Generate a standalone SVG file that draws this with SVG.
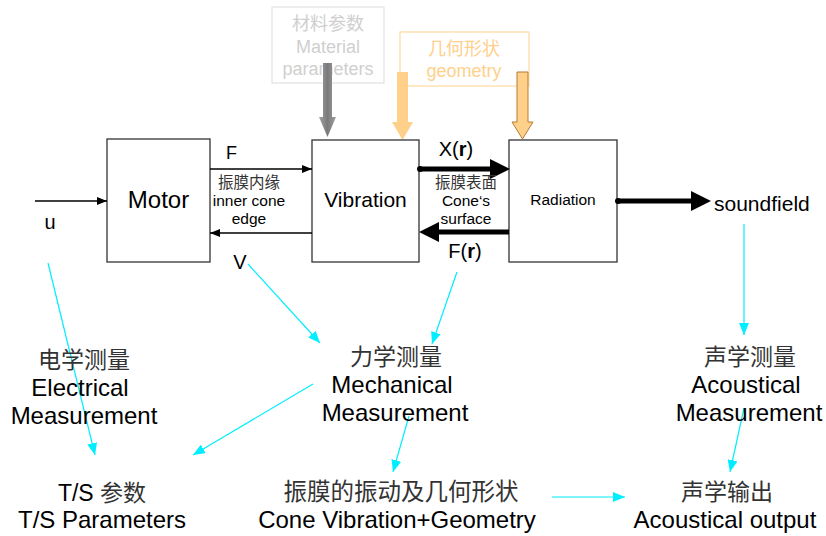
<svg xmlns="http://www.w3.org/2000/svg" width="826" height="536" viewBox="0 0 826 536">
<style>
.box{fill:#fff;stroke:#333;stroke-width:1.3}
.lat{font-family:"Liberation Sans",Arial,sans-serif;fill:#000}
.cjk{font-family:"Noto Sans CJK SC","Liberation Sans",sans-serif;fill:#333}
.thin{stroke:#000;stroke-width:1.3;fill:none}
.thick{stroke:#000;stroke-width:5;fill:none}
.cy{stroke:#00eeff;stroke-width:1.2;fill:none;marker-end:url(#cyHead)}
.mid{text-anchor:middle}
</style>
<defs>
<marker id="thinHead" viewBox="0 0 10 8" markerWidth="10" markerHeight="8" refX="10" refY="4" orient="auto" markerUnits="userSpaceOnUse"><path d="M0,0 L10,4 L0,8 z" fill="#000"/></marker>
<marker id="thickHead" viewBox="0 0 20 20" markerWidth="20" markerHeight="20" refX="0" refY="10" orient="auto" markerUnits="userSpaceOnUse"><path d="M0,0 L20,10 L0,20 z" fill="#000"/></marker>
<marker id="dot" viewBox="0 0 6 6" markerWidth="6" markerHeight="6" refX="3" refY="3" markerUnits="userSpaceOnUse"><circle cx="3" cy="3" r="3" fill="#000"/></marker>
<marker id="cyHead" viewBox="0 0 12 10" markerWidth="12" markerHeight="10" refX="12" refY="5" orient="auto" markerUnits="userSpaceOnUse"><path d="M0,0 L12,5 L0,10 z" fill="#00eeff"/></marker>
<linearGradient id="grey" x1="0" y1="0" x2="1" y2="0"><stop offset="0" stop-color="#a0a0a0"/><stop offset="0.5" stop-color="#7a7a7a"/><stop offset="1" stop-color="#a0a0a0"/></linearGradient>
</defs>

<g id="material">
<rect x="272" y="7" width="112" height="76" fill="none" stroke="#e2e2e2" stroke-width="1.2"/>
<text class="cjk mid" x="328" y="30" font-size="18" style="fill:#cfcfcf">材料参数</text>
<text class="lat mid" x="328" y="53" font-size="18" style="fill:#cfcfcf">Material</text>
<text class="lat mid" x="328" y="75" font-size="18" style="fill:#cfcfcf">parameters</text>
</g>
<g id="geometry">
<rect x="400" y="32" width="129" height="54" fill="none" stroke="#ffd99e" stroke-width="1.2"/>
<text class="cjk mid" x="464" y="55" font-size="18" style="fill:#ffd08c">几何形状</text>
<text class="lat mid" x="464" y="77" font-size="18" style="fill:#ffd08c">geometry</text>
</g>

<g id="blockArrows">
<polygon points="323,63 332,63 332,117 336,117 327.5,137 319,117 323,117" fill="url(#grey)"/>
<polygon points="397,72 408,72 408,122 413,122 402.5,140 392,122 397,122" fill="#ffd08a"/>
<polygon points="517,72 528,72 528,122 533,122 522.5,139 512,122 517,122" fill="#ffd08a" stroke="#b97a35" stroke-width="1"/>
</g>

<g id="motor">
<rect class="box" x="107" y="139" width="103" height="123"/>
<text class="lat mid" x="158.5" y="208" font-size="24">Motor</text>
</g>
<g id="vibration">
<rect class="box" x="312" y="140" width="107" height="122"/>
<text class="lat mid" x="365.5" y="207" font-size="21">Vibration</text>
</g>
<g id="radiation">
<rect class="box" x="509" y="140" width="108" height="122"/>
<text class="lat mid" x="563" y="205" font-size="15.5">Radiation</text>
</g>

<g id="connectors">
<line class="thin" x1="35" y1="201" x2="107" y2="201" marker-end="url(#thinHead)"/>
<line class="thin" x1="210" y1="169" x2="312" y2="169" marker-end="url(#thinHead)"/>
<line class="thin" x1="312" y1="233" x2="210" y2="233" marker-end="url(#thinHead)"/>
<line class="thick" x1="420" y1="169" x2="490" y2="169" marker-start="url(#dot)" marker-end="url(#thickHead)"/>
<line class="thick" x1="509" y1="232" x2="439" y2="232" marker-end="url(#thickHead)"/>
<line class="thick" x1="618" y1="201" x2="691" y2="201" marker-start="url(#dot)" marker-end="url(#thickHead)"/>
<line class="cy" x1="48" y1="263" x2="95" y2="455"/>
<line class="cy" x1="248" y1="264" x2="320" y2="343"/>
<line class="cy" x1="313" y1="384" x2="193" y2="455"/>
<line class="cy" x1="457" y1="272" x2="432" y2="344"/>
<line class="cy" x1="409" y1="416" x2="393" y2="472"/>
<line class="cy" x1="744" y1="224" x2="744" y2="335"/>
<line class="cy" x1="744" y1="408" x2="730" y2="472"/>
<line class="cy" x1="552" y1="497" x2="625" y2="497"/>
</g>

<g id="labels">
<text class="lat mid" x="50" y="229" font-size="20">u</text>
<text class="lat" x="226" y="159" font-size="18">F</text>
<text class="cjk mid" x="249" y="188" font-size="15.5">振膜内缘</text>
<text class="lat mid" x="249" y="206" font-size="15.5">inner cone</text>
<text class="lat mid" x="249" y="224" font-size="15.5">edge</text>
<text class="lat mid" x="240" y="269" font-size="20">V</text>
<text class="lat mid" x="456" y="156" font-size="20">X(<tspan font-weight="bold">r</tspan>)</text>
<text class="cjk mid" x="466" y="188" font-size="15.5">振膜表面</text>
<text class="lat mid" x="466" y="206" font-size="15.5">Cone‘s</text>
<text class="lat mid" x="466" y="224" font-size="15.5">surface</text>
<text class="lat mid" x="465" y="258" font-size="20">F(<tspan font-weight="bold">r</tspan>)</text>
<text class="lat" x="714" y="211" font-size="21">soundfield</text>
</g>

<g id="electrical">
<text class="cjk mid" x="84" y="368" font-size="23">电学测量</text>
<text class="lat mid" x="80" y="396" font-size="24">Electrical</text>
<text class="lat mid" x="84" y="424" font-size="24">Measurement</text>
</g>
<g id="mechanical">
<text class="cjk mid" x="396" y="365" font-size="23">力学测量</text>
<text class="lat mid" x="392" y="393" font-size="24">Mechanical</text>
<text class="lat mid" x="395" y="421" font-size="24">Measurement</text>
</g>
<g id="acoustical">
<text class="cjk mid" x="750" y="365" font-size="23">声学测量</text>
<text class="lat mid" x="746" y="393" font-size="24">Acoustical</text>
<text class="lat mid" x="749" y="421" font-size="24">Measurement</text>
</g>
<g id="ts">
<text class="lat mid" x="102" y="501" font-size="23">T/S <tspan class="cjk">参数</tspan></text>
<text class="lat mid" x="102" y="528" font-size="24">T/S Parameters</text>
</g>
<g id="cone">
<text class="cjk mid" x="401" y="500" font-size="23.5">振膜的振动及几何形状</text>
<text class="lat mid" x="397" y="528" font-size="24">Cone Vibration+Geometry</text>
</g>
<g id="output">
<text class="cjk mid" x="727" y="500" font-size="23">声学输出</text>
<text class="lat mid" x="725" y="528" font-size="24">Acoustical output</text>
</g>
</svg>
